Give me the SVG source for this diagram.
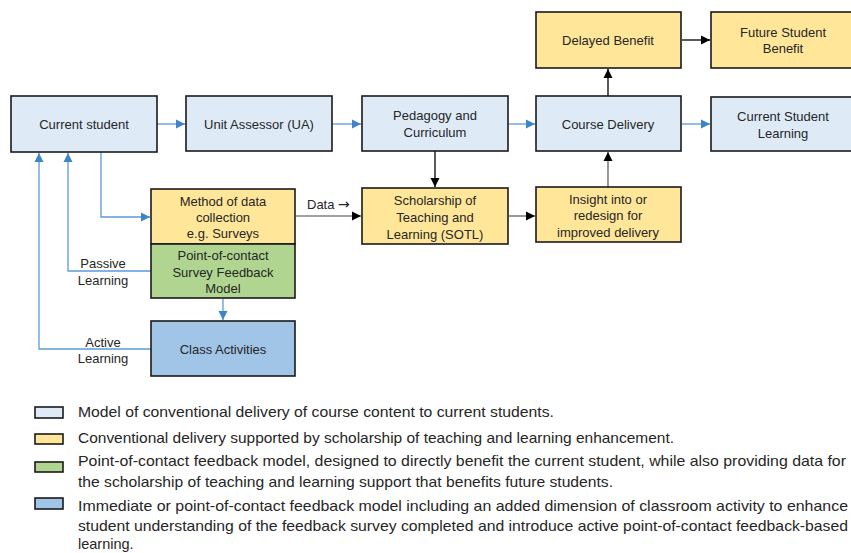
<svg xmlns="http://www.w3.org/2000/svg" width="851" height="553" viewBox="0 0 851 553">
<defs>
<style>
.n{stroke:#1a1a1a;stroke-width:1.6}
.lb{fill:#DEEBF7}.ye{fill:#FFE699}.gr{fill:#B0D590}.bl{fill:#A1C5E7}
text{font-family:"Liberation Sans",Arial,sans-serif;font-size:13px;fill:#262626}
.c{text-anchor:middle}
.lg{font-size:14.5px}
.bc{stroke:#5B9BD5;stroke-width:1.3;fill:none}
.kc{stroke:#000;stroke-width:1.3;fill:none}
.gc{stroke:#444;stroke-width:1.1;fill:none}
</style>
<marker id="ab" markerWidth="10" markerHeight="10" refX="9" refY="5" orient="auto" markerUnits="userSpaceOnUse"><path d="M0,0.5 L9,5 L0,9.5z" fill="#3C85C6"/></marker>
<marker id="ak" markerWidth="10" markerHeight="10" refX="9" refY="5" orient="auto" markerUnits="userSpaceOnUse"><path d="M0,0.5 L9,5 L0,9.5z" fill="#000"/></marker>
</defs>
<rect width="851" height="553" fill="#fff"/>

<g id="connectors">
<path class="bc" d="M157,124 H185" marker-end="url(#ab)"/>
<path class="bc" d="M333,124 H361" marker-end="url(#ab)"/>
<path class="bc" d="M509,124 H535" marker-end="url(#ab)"/>
<path class="bc" d="M682,124 H710" marker-end="url(#ab)"/>
<path class="kc" d="M608,96 V69" marker-end="url(#ak)"/>
<path class="kc" d="M682,40 H710" marker-end="url(#ak)"/>
<path class="kc" d="M435,151 V187" marker-end="url(#ak)"/>
<path class="gc" d="M296,216 H361" marker-end="url(#ak)"/>
<path class="gc" d="M509,216 H535" marker-end="url(#ak)"/>
<path class="gc" d="M608,187 V152" marker-end="url(#ak)"/>
<path class="bc" d="M101,152 V217 H150" marker-end="url(#ab)"/>
<path class="bc" d="M151,271 H68 V153" marker-end="url(#ab)"/>
<path class="bc" d="M151,349 H39 V153" marker-end="url(#ab)"/>
<path class="bc" d="M223,299 V320" marker-end="url(#ab)"/>
<text x="307" y="209">Data <tspan font-family="DejaVu Sans, sans-serif" font-size="14">→</tspan></text>
<text class="c" x="103" y="268">Passive</text>
<text class="c" x="103" y="285">Learning</text>
<text class="c" x="103" y="347">Active</text>
<text class="c" x="103" y="363">Learning</text>
</g>

<g id="current-student"><rect class="n lb" x="11" y="96" width="146" height="56"/><text class="c" x="84" y="129">Current student</text></g>
<g id="unit-assessor"><rect class="n lb" x="186" y="96" width="146" height="55"/><text class="c" x="259" y="129">Unit Assessor (UA)</text></g>
<g id="pedagogy"><rect class="n lb" x="362" y="96" width="146" height="55"/><text class="c" x="435" y="120">Pedagogy and</text><text class="c" x="435" y="137">Curriculum</text></g>
<g id="course-delivery"><rect class="n lb" x="536" y="96" width="145" height="55"/><text class="c" x="608" y="129">Course Delivery</text></g>
<g id="current-student-learning"><rect class="n lb" x="711" y="97" width="150" height="54"/><text class="c" x="783" y="121">Current Student</text><text class="c" x="783" y="138">Learning</text></g>
<g id="delayed-benefit"><rect class="n ye" x="536" y="12" width="145" height="56"/><text class="c" x="608" y="45">Delayed Benefit</text></g>
<g id="future-student-benefit"><rect class="n ye" x="711" y="12" width="150" height="56"/><text class="c" x="783" y="37">Future Student</text><text class="c" x="783" y="53">Benefit</text></g>
<g id="sotl"><rect class="n ye" x="362" y="188" width="146" height="56"/><text class="c" x="435" y="205">Scholarship of</text><text class="c" x="435" y="222">Teaching and</text><text class="c" x="435" y="239">Learning (SOTL)</text></g>
<g id="insight"><rect class="n ye" x="536" y="187" width="145" height="55"/><text class="c" x="608" y="204">Insight into or</text><text class="c" x="608" y="220">redesign for</text><text class="c" x="608" y="237">improved delivery</text></g>
<g id="method"><rect class="n ye" x="151" y="189" width="144" height="55"/><text class="c" x="223" y="206">Method of data</text><text class="c" x="223" y="222">collection</text><text class="c" x="223" y="238">e.g. Surveys</text></g>
<g id="point-of-contact"><rect class="n gr" x="151" y="244" width="144" height="54"/><text class="c" x="223" y="260">Point-of-contact</text><text class="c" x="223" y="277">Survey Feedback</text><text class="c" x="223" y="293">Model</text></g>
<g id="class-activities"><rect class="n bl" x="151" y="321" width="144" height="55"/><text class="c" x="223" y="354">Class Activities</text></g>

<g id="legend">
<rect class="n lb" x="35" y="407" width="28" height="11" stroke-width="1.3"/>
<rect class="n ye" x="35" y="434" width="28" height="10" stroke-width="1.3"/>
<rect class="n gr" x="35" y="462" width="28" height="10" stroke-width="1.3"/>
<rect class="n bl" x="35" y="498" width="28" height="11" stroke-width="1.3"/>
<text class="lg" x="78" y="417" textLength="476" lengthAdjust="spacingAndGlyphs">Model of conventional delivery of course content to current students.</text>
<text class="lg" x="78" y="443" textLength="596" lengthAdjust="spacingAndGlyphs">Conventional delivery supported by scholarship of teaching and learning enhancement.</text>
<text class="lg" x="78" y="466" textLength="768" lengthAdjust="spacingAndGlyphs">Point-of-contact feedback model, designed to directly benefit the current student, while also providing data for</text>
<text class="lg" x="78" y="487" textLength="535" lengthAdjust="spacingAndGlyphs">the scholarship of teaching and learning support that benefits future students.</text>
<text class="lg" x="78" y="511" textLength="770" lengthAdjust="spacingAndGlyphs">Immediate or point-of-contact feedback model including an added dimension of classroom activity to enhance</text>
<text class="lg" x="78" y="531" textLength="770" lengthAdjust="spacingAndGlyphs">student understanding of the feedback survey completed and introduce active point-of-contact feedback-based</text>
<text class="lg" x="78" y="549">learning.</text>
</g>
</svg>
